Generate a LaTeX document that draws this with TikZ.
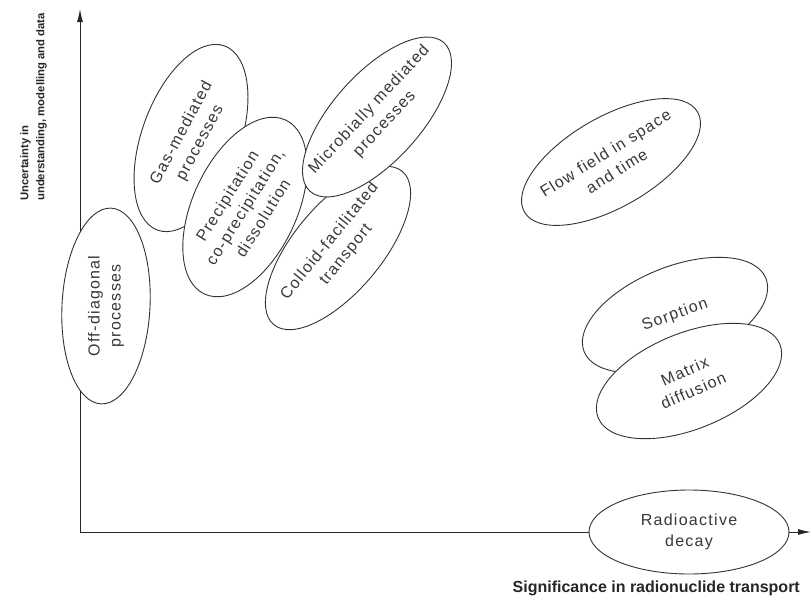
\documentclass[tikz,border=0pt]{standalone}
\usepackage{fontspec}
\setmainfont{Liberation Sans}
\newfontfamily\procfont[LetterSpace=8]{Liberation Sans}
\usetikzlibrary{shapes.geometric,arrows.meta}
\begin{document}
\begin{tikzpicture}[x=1pt,y=-1pt,
  proc/.style={draw=black!80, line width=0.9pt, fill=white, ellipse, inner sep=0pt},
  ptext/.style={text=black!78, font=\procfont\fontsize{16}{21}\selectfont, align=center, inner sep=0pt},
  axis/.style={draw=black!85, line width=1pt, -{Latex[length=13pt,width=6pt]}},
  ylabel/.style={font=\bfseries\fontsize{11.3}{16}\selectfont, text=black!85, align=left, inner sep=0pt},
  xlabel/.style={font=\bfseries\fontsize{16}{19}\selectfont, text=black!85, inner sep=0pt}]
\useasboundingbox (0,0) rectangle (811,605);
% axes
\coordinate (origin) at (80,532);
\coordinate (ytop) at (80,9);
\coordinate (xend) at (811,532);
\draw[axis] (origin) -- (ytop);
\draw[axis] (origin) -- (xend);
\node[ylabel, rotate=90, anchor=north west] (ylab) at (20,201) {Uncertainty in\\understanding, modelling and data};
\node[xlabel, anchor=east] (xlab) at (800,588) {Significance in radionuclide transport};
% processes
\node[proc, rotate=70, minimum width=196, minimum height=98] (gas) at (191,138) {};
\node[ptext, rotate=62] (gastxt) at (gas.center) {Gas-mediated\\processes};
\node[proc, rotate=65, minimum width=192, minimum height=104] (prec) at (245,207) {};
\node[ptext, rotate=58] (prectxt) at (prec.center) {Precipitation\\co-precipitation,\\dissolution};
\node[proc, rotate=50, minimum width=200, minimum height=88] (coll) at (338,248) {};
\node[ptext, rotate=51] (colltxt) at (coll.center) {Colloid-facilitated\\transport};
\node[proc, rotate=48, minimum width=200, minimum height=88] (micro) at (377,117) {};
\node[ptext, rotate=47] (microtxt) at (micro.center) {Microbially mediated\\processes};
\node[proc, rotate=30, minimum width=200, minimum height=90] (flow) at (611,162) {};
\node[ptext, rotate=32] (flowtxt) at (flow.center) {Flow field in space\\and time};
\node[proc, rotate=22, minimum width=196, minimum height=96] (sorp) at (675,315) {};
\node[ptext, rotate=20] (sorptxt) at (sorp.center) {Sorption};
\node[proc, rotate=22, minimum width=196, minimum height=96] (matrix) at (689,381) {};
\node[ptext, rotate=24] (matrixtxt) at (matrix.center) {Matrix\\diffusion};
\node[proc, rotate=87, minimum width=196, minimum height=88] (offd) at (106,306) {};
\node[ptext, rotate=90] (offdtxt) at (offd.center) {Off-diagonal\\processes};
\node[proc, minimum width=200, minimum height=84] (decay) at (689,532) {};
\node[ptext] (decaytxt) at (decay.center) {Radioactive\\decay};
\end{tikzpicture}
\end{document}
